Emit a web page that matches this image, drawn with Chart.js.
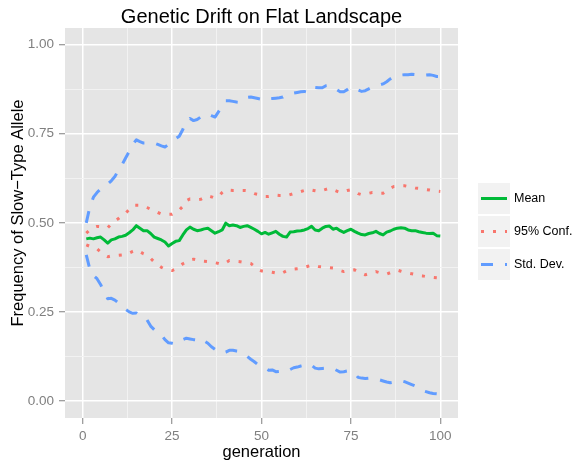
<!DOCTYPE html>
<html>
<head>
<meta charset="utf-8">
<script src="https://cdn.jsdelivr.net/npm/chart.js@4/dist/chart.umd.min.js"></script>
<style>
  html, body { margin: 0; padding: 0; background: #ffffff; }
  canvas { display: block; }
</style>
</head>
<body>
<canvas id="c" width="582" height="462"></canvas>
<script>
// ---------------- DATA ----------------
const chartTitle = "Genetic Drift on Flat Landscape";
const xTitle = "generation";
const yTitle = "Frequency of Slow\u2212Type Allele";
const seriesNames = ["Mean", "95% Conf.", "Std. Dev."];

const generation = [
  1,2,3,4,5,6,7,8,9,10,11,12,13,14,15,16,17,18,19,20,
  21,22,23,24,25,26,27,28,29,30,31,32,33,34,35,36,37,38,39,40,
  41,42,43,44,45,46,47,48,49,50,51,52,53,54,55,56,57,58,59,60,
  61,62,63,64,65,66,67,68,69,70,71,72,73,74,75,76,77,78,79,80,
  81,82,83,84,85,86,87,88,89,90,91,92,93,94,95,96,97,98,99,100
];

const meanFreq = [
  .455,.457,.455,.458,.460,.452,.443,.452,.455,.460,.462,.465,.472,.480,.492,.485,.478,.478,.470,.460,
  .456,.452,.446,.435,.442,.448,.450,.466,.480,.488,.482,.478,.480,.483,.485,.478,.471,.475,.480,.499,
  .492,.494,.492,.487,.490,.492,.487,.482,.476,.469,.473,.468,.472,.476,.468,.462,.460,.474,.475,.477,
  .478,.480,.484,.490,.480,.478,.485,.490,.491,.482,.485,.478,.473,.478,.482,.476,.471,.467,.466,.470,
  .472,.476,.470,.466,.474,.477,.482,.485,.486,.485,.480,.478,.478,.475,.473,.471,.470,.471,.464,.463
];

const confUpper = [
  .471,.480,.487,.490,.489,.487,.486,.497,.505,.512,.520,.527,.538,.549,.549,.549,.548,.543,.538,.534,
  .529,.525,.524,.524,.524,.530,.536,.546,.562,.567,.566,.565,.566,.571,.576,.573,.569,.574,.585,.593,
  .592,.591,.591,.591,.591,.590,.586,.582,.580,.577,.574,.574,.576,.578,.577,.577,.576,.579,.582,.585,
  .588,.591,.594,.592,.590,.588,.591,.594,.597,.593,.589,.585,.588,.591,.593,.588,.582,.579,.581,.583,
  .585,.584,.583,.583,.590,.597,.602,.603,.604,.604,.602,.600,.598,.597,.595,.593,.592,.590,.589,.588
];

const confLower = [
  .438,.434,.430,.427,.418,.410,.405,.407,.409,.409,.410,.410,.415,.420,.424,.419,.413,.409,.400,.390,
  .382,.375,.370,.368,.366,.370,.377,.385,.390,.396,.398,.396,.393,.392,.391,.390,.388,.386,.383,.388,
  .394,.393,.392,.391,.389,.388,.386,.378,.369,.365,.364,.363,.361,.359,.356,.360,.365,.368,.370,.371,
  .372,.375,.378,.381,.379,.377,.376,.375,.374,.373,.370,.366,.363,.365,.367,.368,.363,.358,.354,.357,
  .360,.363,.360,.358,.356,.360,.364,.367,.364,.361,.359,.357,.355,.352,.351,.349,.348,.347,.346,.345
];

const sdUpper = [
  .500,.545,.572,.585,.595,.602,.609,.618,.630,.648,.663,.682,.700,.720,.733,.728,.724,.724,.724,.724,
  .720,.716,.713,.720,.730,.736,.743,.762,.785,.793,.787,.790,.797,.801,.806,.801,.797,.812,.827,.843,
  .843,.841,.839,.838,.845,.852,.853,.851,.849,.847,.852,.848,.849,.850,.851,.853,.860,.862,.864,.866,
  .868,.869,.866,.880,.880,.879,.879,.885,.886,.879,.874,.868,.868,.874,.882,.878,.873,.869,.871,.876,
  .881,.884,.887,.890,.896,.904,.911,.913,.915,.916,.916,.917,.916,.914,.913,.915,.916,.914,.911,.911
];

const sdLower = [
  .410,.370,.352,.343,.327,.305,.287,.288,.283,.275,.265,.257,.250,.246,.247,.240,.234,.227,.210,.200,
  .192,.185,.172,.163,.162,.160,.164,.172,.176,.174,.172,.171,.163,.168,.162,.152,.145,.138,.134,.137,
  .142,.142,.140,.139,.133,.125,.117,.110,.102,.098,.092,.086,.087,.082,.083,.082,.082,.088,.093,.095,
  .098,.100,.104,.100,.092,.090,.091,.092,.093,.091,.086,.081,.082,.084,.083,.078,.066,.064,.063,.064,
  .064,.062,.059,.056,.053,.051,.053,.056,.057,.054,.050,.046,.042,.035,.029,.026,.023,.021,.020,.019
];

const xTickLabels = [0, 25, 50, 75, 100];
const yTickLabels = [0, 0.25, 0.5, 0.75, 1.0];

// ---------------- STYLE ----------------
const COL_MEAN = "#00BA38";
const COL_CONF = "#F8766D";
const COL_SD = "#619CFF";
const DASH_CONF = [3, 9];
const DASH_SD = [12, 12];
const FONT = "'Liberation Sans', Arial, Helvetica, sans-serif";

function pts(arr) { return arr.map((v, i) => ({ x: generation[i], y: v })); }

function withMinor(major) {
  const out = [];
  for (let i = 0; i < major.length; i++) {
    out.push(major[i]);
    if (i < major.length - 1) out.push((major[i] + major[i + 1]) / 2);
  }
  return out;
}
const isMajor = (list, v) => list.some(m => Math.abs(m - v) < 1e-9);

const lineDs = (label, data, color, dash) => ({
  label, data: pts(data), borderColor: color, backgroundColor: color,
  borderWidth: 3, borderDash: dash, borderCapStyle: 'butt', borderJoinStyle: 'round',
  pointRadius: 0, pointHoverRadius: 0, tension: 0, fill: false
});

const bgPlugin = {
  id: 'panelBg',
  beforeDraw(chart) {
    const { ctx, chartArea: a } = chart;
    ctx.save();
    ctx.fillStyle = '#FFFFFF';
    ctx.fillRect(0, 0, chart.width, chart.height);
    ctx.fillStyle = '#E5E5E5';
    ctx.fillRect(a.left, a.top, a.right - a.left, a.bottom - a.top);
    ctx.restore();
  },
  afterDraw(chart) {
    const { ctx, chartArea: a } = chart;
    ctx.save();
    // title
    ctx.fillStyle = '#000000';
    ctx.font = "20px " + FONT;
    ctx.textAlign = 'center';
    ctx.textBaseline = 'alphabetic';
    ctx.fillText(chartTitle, (a.left + a.right) / 2, 23);
    // axis titles
    ctx.font = "16.5px " + FONT;
    ctx.textBaseline = 'middle';
    ctx.fillText(xTitle, (a.left + a.right) / 2, 452);
    ctx.save();
    ctx.translate(18, 213);
    ctx.rotate(-Math.PI / 2);
    ctx.fillText(yTitle, 0, 0);
    ctx.restore();
    // legend
    const keyX = 478, keyW = 32, keyH = 31, keyTop = 183, step = 33;
    const styles = [
      { color: COL_MEAN, dash: [] },
      { color: COL_CONF, dash: DASH_CONF },
      { color: COL_SD, dash: DASH_SD }
    ];
    seriesNames.forEach((name, i) => {
      const y0 = keyTop + i * step;
      ctx.fillStyle = '#F2F2F2';
      ctx.fillRect(keyX, y0, keyW, keyH);
      const cy = y0 + keyH / 2;
      ctx.strokeStyle = styles[i].color;
      ctx.lineWidth = 3;
      ctx.lineCap = 'butt';
      ctx.setLineDash(styles[i].dash);
      ctx.lineDashOffset = 0;
      ctx.beginPath();
      ctx.moveTo(keyX + 3, cy);
      ctx.lineTo(keyX + keyW - 3, cy);
      ctx.stroke();
      ctx.setLineDash([]);
      ctx.fillStyle = '#000000';
      ctx.font = "12.5px " + FONT;
      ctx.textAlign = 'left';
      ctx.textBaseline = 'middle';
      ctx.fillText(name, keyX + keyW + 4, cy + 0.5);
    });
    ctx.restore();
  }
};

const xAll = withMinor(xTickLabels);
const yAll = withMinor(yTickLabels);

new Chart(document.getElementById('c'), {
  type: 'line',
  data: {
    datasets: [
      lineDs(seriesNames[2] + ' upper', sdUpper, COL_SD, DASH_SD),
      lineDs(seriesNames[2] + ' lower', sdLower, COL_SD, DASH_SD),
      lineDs(seriesNames[1] + ' upper', confUpper, COL_CONF, DASH_CONF),
      lineDs(seriesNames[1] + ' lower', confLower, COL_CONF, DASH_CONF),
      lineDs(seriesNames[0], meanFreq, COL_MEAN, [])
    ]
  },
  options: {
    responsive: false,
    devicePixelRatio: 1,
    animation: false,
    events: [],
    layout: { padding: { left: 0, right: 124, top: 28, bottom: 0 } },
    plugins: { legend: { display: false }, title: { display: false }, tooltip: { enabled: false } },
    scales: {
      x: {
        type: 'linear', min: -4.95, max: 104.95,
        afterBuildTicks(s) { s.ticks = xAll.map(v => ({ value: v })); },
        afterFit(s) { s.height = 44; },
        border: { display: false },
        grid: {
          color: c => isMajor(xTickLabels, c.tick.value) ? '#FFFFFF' : '#F2F2F2',
          lineWidth: c => isMajor(xTickLabels, c.tick.value) ? 1.5 : 1,
          tickColor: c => isMajor(xTickLabels, c.tick.value) ? '#7F7F7F' : 'rgba(0,0,0,0)',
          tickLength: 6, tickWidth: 1, drawTicks: true
        },
        ticks: {
          autoSkip: false, maxRotation: 0, padding: 4,
          color: '#7F7F7F', font: { family: FONT, size: 13.5 },
          callback: v => isMajor(xTickLabels, v) ? String(v) : ''
        },
        title: { display: false }
      },
      y: {
        type: 'linear', min: -0.048, max: 1.047,
        afterBuildTicks(s) { s.ticks = yAll.map(v => ({ value: v })); },
        afterFit(s) { s.width = 65; },
        border: { display: false },
        grid: {
          color: c => isMajor(yTickLabels, c.tick.value) ? '#FFFFFF' : '#F2F2F2',
          lineWidth: c => isMajor(yTickLabels, c.tick.value) ? 1.5 : 1,
          tickColor: c => isMajor(yTickLabels, c.tick.value) ? '#7F7F7F' : 'rgba(0,0,0,0)',
          tickLength: 6, tickWidth: 1, drawTicks: true
        },
        ticks: {
          autoSkip: false, padding: 5,
          color: '#7F7F7F', font: { family: FONT, size: 13.5 },
          callback: v => isMajor(yTickLabels, v) ? v.toFixed(2) : ''
        },
        title: { display: false }
      }
    }
  },
  plugins: [bgPlugin]
});
</script>
</body>
</html>
